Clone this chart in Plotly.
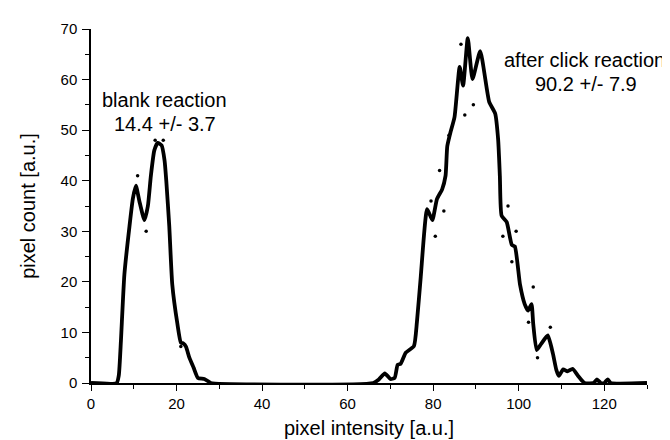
import plotly.graph_objects as go

# Smoothed histogram curve (pixel intensity vs pixel count)
curve_x = [0, 6, 6.5, 7, 7.8, 9, 9.8, 10.5, 11.3, 12.5, 13.3, 14, 14.8, 15.6, 16.5, 17.2, 17.6,
           18.3, 19, 20.2, 21, 21.6, 22.2, 23, 24, 25, 26.5, 27.5, 28,
           66, 67.3, 68.7, 70, 71, 71.7, 72.4, 73.6, 75.5, 76.2, 77.1, 78.6, 79.8, 80.9, 82.1,
           82.9, 83.3, 84, 85, 86.2, 87, 88.1, 89.2, 91, 93.1, 94.5, 95.2, 95.6, 96, 97.2, 98.4,
           99.1, 100.3, 101.4, 102.2, 103, 103.4, 104.2, 105.3, 106.8, 108, 108.8, 109.4, 110.4,
           111.4, 112.6, 113.9, 114.9, 115.4, 117.5, 118.3, 119.2, 120, 120.8, 121.5, 130]
curve_y = [0, 0, 1.5, 8.4, 21.4, 31, 36.5, 39, 36, 32.2, 35, 41, 46, 47.5, 47, 44, 40,
           31, 19.5, 11.7, 8, 7.8, 7.2, 5, 3, 1, 0.8, 0.3, 0,
           0, 0.7, 1.9, 0.8, 1, 3.6, 3.8, 6, 7.3, 12, 21, 34.4, 32.2, 36.4, 38.3,
           41, 46.8, 49.4, 52.6, 62.5, 58.8, 68.2, 60.1, 65.6, 55.6, 53.3, 48.1, 40.9, 33.1, 31.8, 27.3,
           27, 19.5, 15.6, 14.3, 15.6, 11.7, 6.5, 7.8, 9.4, 5.8, 2.6, 1.4, 2.7,
           2.3, 2.8, 1.4, 0.4, 0, 0, 0.7, 0, 0, 0.7, 0, 0]

# Raw data points (dots)
dot_x = [10.9, 12.9, 15, 16.9, 21, 79.5, 80.5, 81.5, 82.5, 83.7, 86.5, 87.4, 89.4,
         96.3, 97.5, 98.4, 99.4, 102.3, 103.4, 104.4, 107.4]
dot_y = [41, 30, 48, 48, 7.2, 36, 29, 42, 34, 49, 67, 53, 55,
         29, 35, 24, 30, 12, 19, 5, 11]

# Text labels (one entry per line)
label_text = ["blank reaction", "14.4 +/- 3.7", "after click reaction", "90.2 +/- 7.9"]
label_x = [17.2, 17.2, 115.3, 115.8]
label_y = [55.9, 51.2, 63.9, 59.2]

FONT = "Liberation Sans, Arial, sans-serif"

fig = go.Figure()
fig.add_trace(go.Scatter(x=dot_x, y=dot_y, mode="markers",
                         marker=dict(color="black", size=3.5), showlegend=False))
fig.add_trace(go.Scatter(x=curve_x, y=curve_y, mode="lines",
                         line=dict(color="black", width=3.8, shape="spline", smoothing=0.5),
                         showlegend=False))

for t, x, y in zip(label_text, label_x, label_y):
    fig.add_annotation(x=x, y=y, text=t, showarrow=False, align="center",
                       xanchor="center", yanchor="middle",
                       font=dict(family=FONT, size=20, color="black"))

fig.update_layout(
    width=670, height=440,
    margin=dict(l=83, r=31, t=21, b=61),
    paper_bgcolor="white", plot_bgcolor="white",
    font=dict(family=FONT, color="black"),
)
fig.update_xaxes(range=[0, 130], dtick=20, tick0=0, ticks="outside", ticklen=6, tickwidth=1.3,
                 tickcolor="black", showline=True, linecolor="black", linewidth=1.5,
                 showgrid=False, zeroline=False, tickfont=dict(size=15, family=FONT),
                 minor=dict(dtick=10, ticks="outside", ticklen=4, tickcolor="black", showgrid=False),
                 title=dict(text="pixel intensity [a.u.]", font=dict(size=20, family=FONT), standoff=10))
fig.update_yaxes(range=[0, 70], dtick=10, tick0=0, ticks="outside", ticklen=7, tickwidth=1.3,
                 tickcolor="black", showline=True, linecolor="black", linewidth=1.5,
                 showgrid=False, zeroline=False, tickfont=dict(size=15, family=FONT),
                 ticklabelstandoff=2,
                 minor=dict(dtick=5, ticks="outside", ticklen=4, tickcolor="black", showgrid=False),
                 title=dict(text="pixel count [a.u.]", font=dict(size=20, family=FONT), standoff=20))

fig.write_html("out.html")
